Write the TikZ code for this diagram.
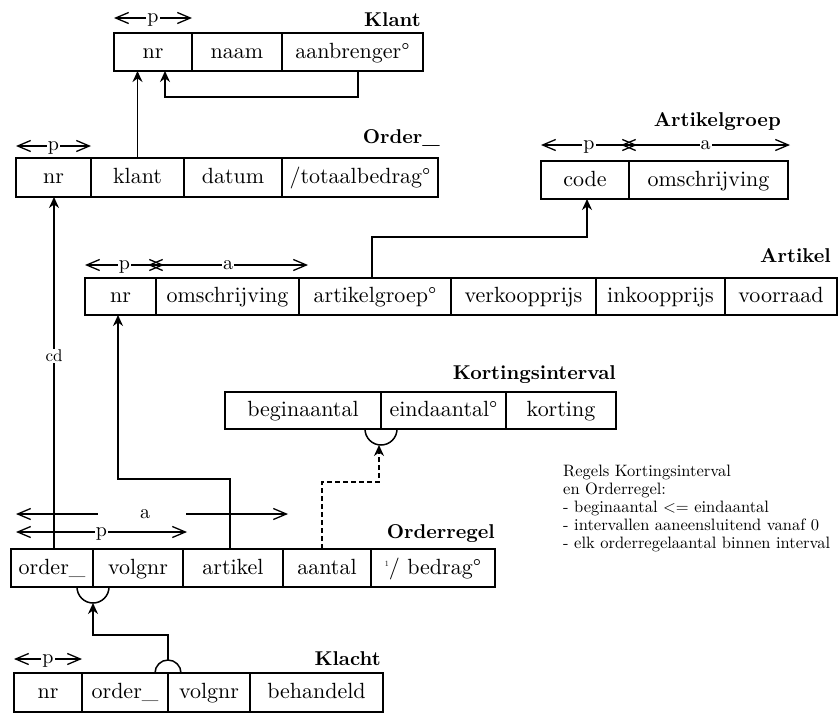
\documentclass[tikz,border=0pt]{standalone}
\usepackage{fontspec}
% one design size of Latin Modern for every text size
\setmainfont{lmroman10-regular.otf}[BoldFont=lmroman10-bold.otf]
\usetikzlibrary{arrows.meta}
\begin{document}
\begin{tikzpicture}[x=1pt,y=-1pt,
  barb/.tip={Straight Barb[length=13pt,width=11pt]},
  cell/.style={draw,line width=1.6pt,inner sep=0pt,outer sep=0pt,minimum height=38pt,
    text height=15pt,text depth=3pt,font=\fontsize{22}{24}\selectfont},
  title/.style={anchor=base east,inner sep=0pt,font=\fontsize{20}{24}\selectfont\bfseries},
  conn/.style={line width=1.5pt,-{Stealth[length=11pt,width=10pt]}},
  dim/.style={line width=1.3pt,{barb}-{barb}},
  dimlbl/.style={anchor=base,yshift=-4.5pt,fill=white,inner sep=1pt,font=\fontsize{20}{24}\selectfont},
  note/.style={anchor=base west,inner sep=0pt,font=\fontsize{16.5}{18}\selectfont},
  hook/.style={line width=1.5pt}]

\useasboundingbox (0,0) rectangle (840,713);

% ---------- Klant ----------
\node[cell,minimum width=78pt]  (knr)   at (153,52)   {nr};
\node[cell,minimum width=90pt]  (knaam) at (237,52)   {naam};
\node[cell,minimum width=141pt] (kaanb) at (352.5,52) {aanbrenger°};
\node[title] (t-klant) at (421,26) {Klant};
\draw[dim] ([yshift=15pt]knr.north west) -- ([yshift=15pt]knr.north east)
  node[midway,dimlbl] {p};

% ---------- Order_ ----------
\node[cell,minimum width=75pt,minimum height=39pt]  (onr)    at (53.5,177.5) {nr};
\node[cell,minimum width=93pt,minimum height=39pt]  (oklant) at (137.5,177.5) {klant};
\node[cell,minimum width=98pt,minimum height=39pt]  (odatum) at (233,177.5) {datum};
\node[cell,minimum width=156pt,minimum height=39pt] (otot)   at (360,177.5) {/totaalbedrag°};
\node[title] (t-order) at (440,143) {Order\_};
\draw[dim] ([yshift=12pt]onr.north west) -- ([yshift=12pt]onr.north east)
  node[midway,dimlbl] {p};

% ---------- Artikelgroep ----------
\node[cell,minimum width=88pt]  (agcode) at (585,180)   {code};
\node[cell,minimum width=159pt] (agoms)  at (708.5,180) {omschrijving};
\node[title] (t-artgr) at (781,126) {Artikelgroep};
\draw[dim] ([yshift=16pt]agcode.north west) -- ([xshift=8pt,yshift=16pt]agcode.north east)
  node[midway,dimlbl] {p};
\draw[dim] ([xshift=-8pt,yshift=16pt]agoms.north west) -- ([xshift=2pt,yshift=16pt]agoms.north east)
  node[midway,dimlbl] {a};

% ---------- Artikel ----------
\node[cell,minimum width=71pt,minimum height=37pt]  (anr)   at (120.5,296.5) {nr};
\node[cell,minimum width=143pt,minimum height=37pt] (aoms)  at (227.5,296.5) {omschrijving};
\node[cell,minimum width=152pt,minimum height=37pt] (agrp)  at (375,296.5)   {artikelgroep°};
\node[cell,minimum width=145pt,minimum height=37pt] (averk) at (523.5,296.5) {verkoopprijs};
\node[cell,minimum width=129pt,minimum height=37pt] (aink)  at (660.5,296.5) {inkoopprijs};
\node[cell,minimum width=112pt,minimum height=37pt] (avoor) at (781,296.5)   {voorraad};
\node[title] (t-artikel) at (831,262) {Artikel};
\draw[dim] ([yshift=13pt]anr.north west) -- ([xshift=8pt,yshift=13pt]anr.north east)
  node[midway,dimlbl] {p};
\draw[dim] ([xshift=-8pt,yshift=13pt]aoms.north west) -- ([xshift=9pt,yshift=13pt]aoms.north east)
  node[midway,dimlbl] {a};

% ---------- Kortingsinterval ----------
\node[cell,minimum width=156pt,minimum height=37pt] (kbeg)  at (303,410.5)   {beginaantal};
\node[cell,minimum width=125pt,minimum height=37pt] (keind) at (443.5,410.5) {eindaantal°};
\node[cell,minimum width=110pt,minimum height=37pt] (kkort) at (561,410.5)   {korting};
\node[title] (t-korting) at (616,379) {Kortingsinterval};

% ---------- Orderregel ----------
\node[cell,minimum width=82pt]  (oro)  at (52,568)  {order\_};
\node[cell,minimum width=90pt]  (orv)  at (138,568) {volgnr};
\node[cell,minimum width=100pt] (ora)  at (233,568) {artikel};
\node[cell,minimum width=88pt]  (oraa) at (327,568) {aantal};
\node[cell,minimum width=124pt] (orb)  at (433,568)
  {\raisebox{8pt}{\fontsize{8}{8}\selectfont 1}/ bedrag°};
\node[title] (t-orderregel) at (495,538) {Orderregel};
\draw[dim] ([xshift=5pt,yshift=17pt]oro.north west) -- ([xshift=4pt,yshift=17pt]orv.north east)
  node[pos=0.5,dimlbl] {p};
\draw[line width=1.3pt,{barb}-] ([xshift=5pt,yshift=35pt]oro.north west)
  -- ([xshift=87pt,yshift=35pt]oro.north west);
\draw[line width=1.3pt,-{barb}] ([xshift=3pt,yshift=35pt]orv.north east)
  -- ([xshift=5pt,yshift=35pt]ora.north east);
\node[dimlbl] (or-a) at (145,514) {a};

% ---------- Klacht ----------
\node[cell,minimum width=68pt,minimum height=39pt]  (klnr)  at (48,692.5)    {nr};
\node[cell,minimum width=86pt,minimum height=39pt]  (klord) at (125,692.5)   {order\_};
\node[cell,minimum width=82pt,minimum height=39pt]  (klvol) at (209,692.5)   {volgnr};
\node[cell,minimum width=133pt,minimum height=39pt] (klbeh) at (316.5,692.5) {behandeld};
\node[title] (t-klacht) at (381,665) {Klacht};
\draw[dim] ([yshift=14pt]klnr.north west) -- ([yshift=14pt]klnr.north east)
  node[midway,dimlbl] {p};

% ---------- rules ----------
\node[note] (r1) at (563,476) {Regels Kortingsinterval};
\node[note] (r2) at (563,494) {en Orderregel:};
\node[note] (r3) at (563,512) {- beginaantal <= eindaantal};
\node[note] (r4) at (563,530) {- intervallen aaneensluitend vanaf 0};
\node[note] (r5) at (563,548) {- elk orderregelaantal binnen interval};

% ---------- references ----------
% Order_.klant -> Klant.nr
\draw[conn] (oklant.north) -- (oklant.north |- knr.south);
% Klant.aanbrenger -> Klant.nr
\draw[conn] ([xshift=5.5pt]kaanb.south) -- ++(0,26) -| ([xshift=12pt]knr.south);
% Orderregel.order_ -> Order_.nr
\draw[conn] ([xshift=2pt]oro.north) -- ([xshift=2pt]oro.north |- onr.south);
\node[fill=white,inner sep=1pt,font=\fontsize{17}{18}\selectfont] (cd) at (54,356) {cd};
% Artikel.artikelgroep -> Artikelgroep.code
\draw[conn] ([xshift=-3pt]agrp.north) -- ++(0,-41) -| ([xshift=2pt]agcode.south);
% Orderregel.artikel -> Artikel.nr
\draw[conn] ([xshift=-3pt]ora.north) -- ++(0,-70) -| ([xshift=-2.5pt]anr.south);
% Orderregel.aantal -> Kortingsinterval (beginaantal, eindaantal)
\draw[hook] ([xshift=-16pt]keind.south west) arc[start angle=180,end angle=360,radius=16pt];
\draw[conn,dash pattern=on 5pt off 3pt] ([xshift=-5pt]oraa.north) -- ++(0,-67)
  -| ([xshift=-2pt,yshift=-16pt]keind.south west);
% Klacht.(order_, volgnr) -> Orderregel.(order_, volgnr)
\draw[hook] ([xshift=-16pt]orv.south west) arc[start angle=180,end angle=360,radius=16pt];
\draw[hook] ([xshift=-13pt]klvol.north west) arc[start angle=180,end angle=0,radius=13pt];
\draw[conn] ([yshift=13pt]klvol.north west) -- ++(0,-25) -| ([yshift=-16pt]orv.south west);

\end{tikzpicture}
\end{document}
